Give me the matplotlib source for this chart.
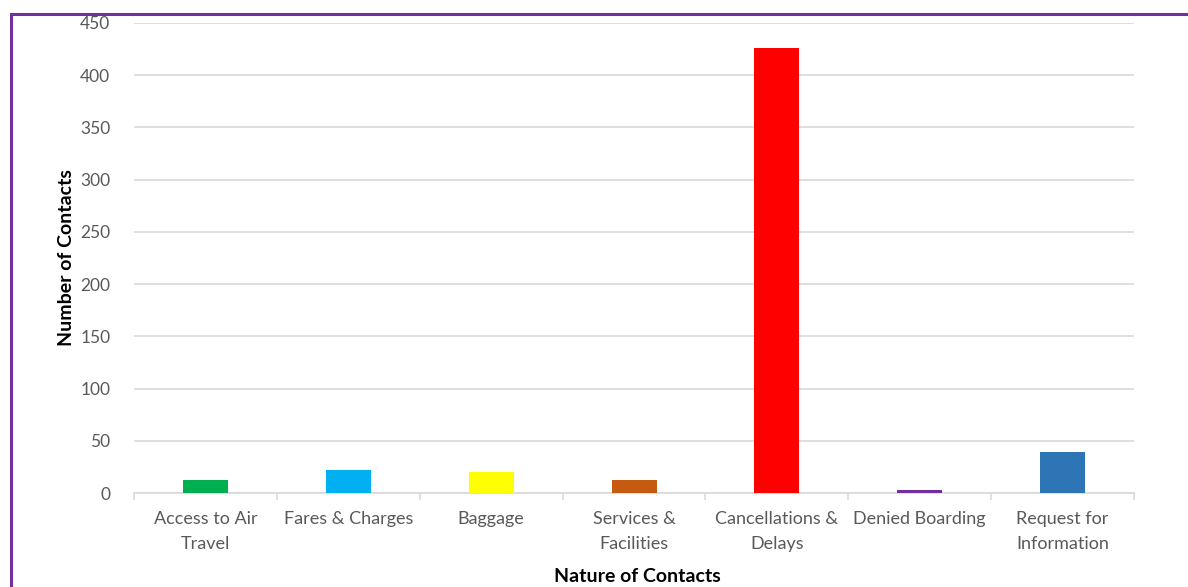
import matplotlib
matplotlib.use('Agg')
import matplotlib.pyplot as plt
from matplotlib.patches import Rectangle
import numpy as np

categories = ['Access to Air\nTravel', 'Fares & Charges', 'Baggage', 'Services &\nFacilities',
              'Cancellations &\nDelays', 'Denied Boarding', 'Request for\nInformation']
contacts = [12, 22, 20, 12, 426, 3, 39]
colors = ['#00b050', '#00b0f0', '#ffff00', '#c55a11', '#ff0000', '#7030a0', '#2e75b6']

plt.rcParams['font.family'] = ['Lato', 'DejaVu Sans']

W, H = 1188, 587
fig = plt.figure(figsize=(W/100, H/100), dpi=100)
ax = fig.add_axes([134/W, 1-493/H, (1134-134)/W, 470/H])

x = np.arange(len(categories))
ax.bar(x, contacts, width=0.315, color=colors, zorder=3)

ax.set_xlim(-0.5, len(categories)-0.5)
ax.set_ylim(0, 450)
ax.set_yticks(np.arange(0, 451, 50))
ax.yaxis.grid(True, color='#d9d9d9', linewidth=1.2, zorder=0)
ax.tick_params(axis='y', length=0, labelsize=12.5, labelcolor='#595959', pad=17)

ax.set_xticks(x)
ax.set_xticklabels(categories, fontsize=13, color='#595959', linespacing=1.7)
ax.set_xticks(np.arange(-0.5, len(categories), 1), minor=True)
ax.tick_params(axis='x', which='major', length=0, pad=13)
ax.tick_params(axis='x', which='minor', length=5, color='#d9d9d9', width=1.2)

for s in ['top', 'right', 'left']:
    ax.spines[s].set_visible(False)
ax.spines['bottom'].set_color('#d9d9d9')
ax.spines['bottom'].set_linewidth(1.2)

fig.text(66/W, 1-258/H, 'Number of Contacts', rotation=90, fontsize=14, fontweight='bold',
         ha='center', va='center')
fig.text(637/W, 1-577/H, 'Nature of Contacts', fontsize=14, fontweight='bold',
         ha='center', va='center')

# purple frame around the chart area
fig.patches.append(Rectangle((11/W, -0.1), 1.2, 1.1 - 14/H, transform=fig.transFigure,
                             fill=False, edgecolor='#7030a0', linewidth=2.2))

fig.savefig('out.png', dpi=100)
